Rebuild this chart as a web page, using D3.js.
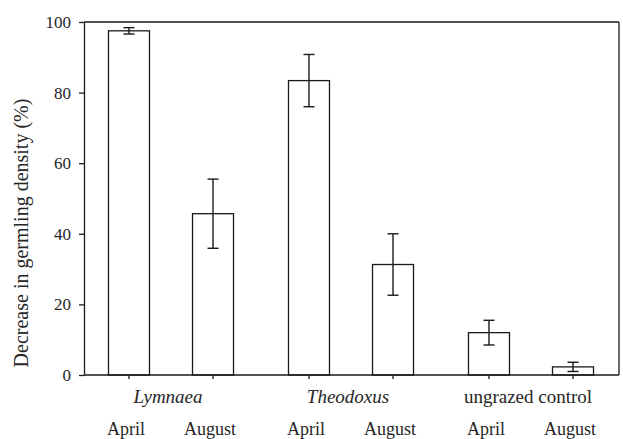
<!DOCTYPE html>
<html>
<head>
<meta charset="utf-8">
<script src="https://cdn.jsdelivr.net/npm/d3@7"></script>
<style>
  body { margin: 0; background: #fff; }
  svg { display: block; }
</style>
</head>
<body>
<svg id="chart" width="623" height="439"></svg>
<script>
// data
let groups = ["Lymnaea", "Theodoxus", "ungrazed control"];
let months = ["April", "August"];
let means = [[97.5, 45.7], [83.4, 31.3], [12.0, 2.3]];
let errors = [[0.9, 9.8], [7.4, 8.7], [3.5, 1.3]];
let yTicks = [0, 20, 40, 60, 80, 100];
let yTitle = "Decrease in germling density (%)";

let lineColor = "#1a1a1a";
let textColor = "#262626";
let plotLeft = 84, plotRight = 619, plotTop = 22, plotBottom = 375;
let barWidth = 41;

let svg = d3.select("#chart");

let x = d3.scaleBand().domain(groups).range([81, 621]).padding(0);
let xm = d3.scalePoint().domain(months).range([0, x.bandwidth()]).padding(0.571);
let y = d3.scaleLinear().domain([0, 100]).range([plotBottom, plotTop]);

// frame
svg.append("line").attr("x1", plotLeft).attr("x2", plotRight).attr("y1", plotTop).attr("y2", plotTop)
  .attr("stroke", lineColor).attr("stroke-width", 1.3);
svg.append("line").attr("x1", plotRight).attr("x2", plotRight).attr("y1", plotTop).attr("y2", plotBottom)
  .attr("stroke", lineColor).attr("stroke-width", 1.3);

// y axis
let yAxis = d3.axisLeft(y).tickValues(yTicks).tickSize(5).tickPadding(8).tickSizeOuter(0);
let ya = svg.append("g").attr("transform", "translate(" + plotLeft + ",0)").call(yAxis);
ya.select(".domain").attr("stroke", lineColor).attr("stroke-width", 1.3);
ya.selectAll(".tick line").attr("stroke", lineColor).attr("stroke-width", 1.3);
ya.selectAll(".tick text")
  .attr("font-family", "'Liberation Serif', serif")
  .attr("font-size", 17)
  .attr("fill", textColor);

svg.append("text")
  .attr("transform", "translate(28,233) rotate(-90)")
  .attr("text-anchor", "middle")
  .attr("font-family", "'Liberation Serif', serif")
  .attr("font-size", 20)
  .attr("fill", textColor)
  .text(yTitle);

// bars
let rows = [];
groups.forEach(function(g, i) {
  months.forEach(function(m, j) {
    rows.push({ group: g, month: m, value: means[i][j], err: errors[i][j] });
  });
});

function cx(d) { return x(d.group) + xm(d.month); }

svg.selectAll(".bar").data(rows).enter().append("rect")
  .attr("class", "bar")
  .attr("x", function(d) { return cx(d) - barWidth / 2; })
  .attr("y", function(d) { return y(d.value); })
  .attr("width", barWidth)
  .attr("height", function(d) { return y(0) - y(d.value); })
  .attr("fill", "#fff")
  .attr("stroke", lineColor)
  .attr("stroke-width", 1.3);

// error bars
let capW = 11;
let eb = svg.selectAll(".err").data(rows).enter().append("g").attr("class", "err")
  .attr("stroke", lineColor).attr("stroke-width", 1.4);
eb.append("line")
  .attr("x1", cx).attr("x2", cx)
  .attr("y1", function(d) { return y(d.value + d.err); })
  .attr("y2", function(d) { return y(d.value - d.err); });
eb.append("line")
  .attr("x1", function(d) { return cx(d) - capW / 2; })
  .attr("x2", function(d) { return cx(d) + capW / 2; })
  .attr("y1", function(d) { return y(d.value + d.err); })
  .attr("y2", function(d) { return y(d.value + d.err); });
eb.append("line")
  .attr("x1", function(d) { return cx(d) - capW / 2; })
  .attr("x2", function(d) { return cx(d) + capW / 2; })
  .attr("y1", function(d) { return y(d.value - d.err); })
  .attr("y2", function(d) { return y(d.value - d.err); });

// baseline with ticks under the bars
svg.append("line").attr("x1", plotLeft).attr("x2", plotRight).attr("y1", plotBottom).attr("y2", plotBottom)
  .attr("stroke", lineColor).attr("stroke-width", 1.3);
svg.selectAll(".xtick").data(rows).enter().append("line")
  .attr("x1", cx).attr("x2", cx)
  .attr("y1", plotBottom).attr("y2", plotBottom + 4)
  .attr("stroke", lineColor).attr("stroke-width", 1.3);

// group labels
svg.selectAll(".glabel").data(groups).enter().append("text")
  .attr("x", function(d) { return x(d) + x.bandwidth() / 2 - 3; })
  .attr("y", 403)
  .attr("text-anchor", "middle")
  .attr("font-family", "'Liberation Serif', serif")
  .attr("font-size", 19)
  .attr("font-style", function(d) { return d == "ungrazed control" ? "normal" : "italic"; })
  .attr("fill", textColor)
  .text(function(d) { return d; });

// month labels
svg.selectAll(".mlabel").data(rows).enter().append("text")
  .attr("x", function(d) { return cx(d) - 3; })
  .attr("y", 435)
  .attr("text-anchor", "middle")
  .attr("font-family", "'Liberation Serif', serif")
  .attr("font-size", 18)
  .attr("fill", textColor)
  .text(function(d) { return d.month; });
</script>
</body>
</html>
